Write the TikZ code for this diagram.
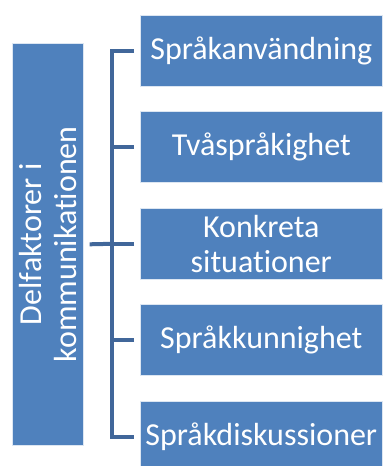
\documentclass[tikz,border=0pt]{standalone}
\usepackage{fontspec}
\setmainfont[Ligatures=NoCommon]{Carlito}
\definecolor{boxblue}{HTML}{4F81BD}
\definecolor{connblue}{HTML}{41679A}
\begin{document}
\begin{tikzpicture}[x=1pt,y=-1pt,
  box/.style={fill=boxblue, draw=white!80!boxblue, line width=0.6pt, text=white,
    minimum width=242pt, minimum height=71pt, anchor=north west, inner sep=0pt,
    align=center, font=\fontsize{32}{35}\selectfont},
  conn/.style={draw=connblue, line width=4pt}]
\useasboundingbox (0,0) rectangle (384,466);
\node[box, minimum width=71pt, minimum height=402pt] (L) at (12,43) {};
\node[rotate=90, text=white, align=center, font=\fontsize{32}{35}\selectfont] (Lt) at (L.center) {Delfaktorer i\\kommunikationen};
\node[box] (b1) at (140,15) {Språkanvändning};
\node[box] (b2) at (140,111) {Tvåspråkighet};
\node[box] (b3) at (140,208) {Konkreta\\situationer};
\node[box] (b4) at (140,304) {Språkkunnighet};
\node[box] (b5) at (140,401) {Språkdiskussioner};
\draw[conn] ([xshift=-6pt]b1.west) -- ++(-22,0) |- ([xshift=-6pt]b5.west);
\draw[conn] ([xshift=-6pt]b2.west) -- ++(-22,0);
\draw[conn] ([xshift=-6pt]b3.west) -- ++(-22,0);
\draw[conn] ([xshift=-6pt]b4.west) -- ++(-22,0);
\draw[conn] ([xshift=6pt]L.east) -- ([xshift=-28pt]b3.west);
\end{tikzpicture}
\end{document}
